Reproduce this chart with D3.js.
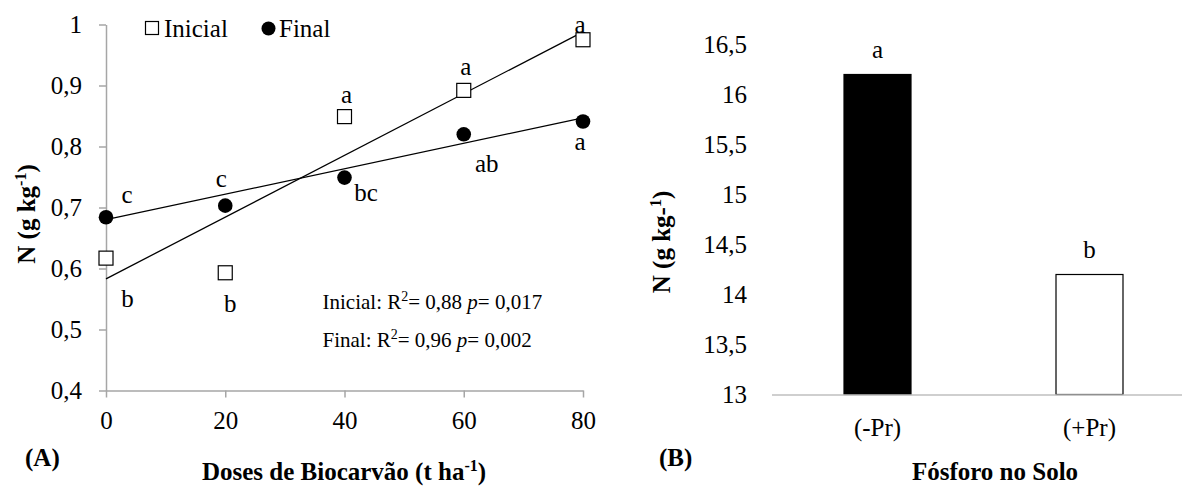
<!DOCTYPE html>
<html>
<head>
<meta charset="utf-8">
<script src="https://cdn.jsdelivr.net/npm/d3@7"></script>
<style>
  body { margin: 0; background: #fff; }
  svg { display: block; }
  text { font-family: "Liberation Serif", "Times New Roman", serif; fill: #000; }
</style>
</head>
<body>
<svg id="chart" width="1182" height="486"></svg>
<script>
// Panel A: N content vs biochar dose
const doses = [0, 20, 40, 60, 80];
const nInicial = [0.617, 0.593, 0.849, 0.892, 0.975];
const nFinal = [0.684, 0.703, 0.749, 0.820, 0.841];
const lettersInicial = ["b", "b", "a", "a", "a"];
const lettersFinal = ["c", "c", "bc", "ab", "a"];
// fitted linear trends: N at dose 0 and at dose 80
const fitDoses = [0, 80];
const fitInicial = [0.583, 0.988];
const fitFinal = [0.680, 0.847];
const yTicksA = [0.4, 0.5, 0.6, 0.7, 0.8, 0.9, 1];
const xTicksA = [0, 20, 40, 60, 80];

// Panel B: N content vs soil phosphorus
const fosforo = ["(-Pr)", "(+Pr)"];
const nFosforo = [16.2, 14.2];
const lettersFosforo = ["a", "b"];
const yTicksB = [13, 13.5, 14, 14.5, 15, 15.5, 16, 16.5];

const locale = d3.formatLocale({ decimal: ",", thousands: ".", grouping: [3], currency: ["", ""] });
const fmt = locale.format("~g");

const svg = d3.select("#chart");
const FS = 25;
const axisGray = "#a6a6a6";

// ---------- Panel A ----------
const xA = d3.scaleLinear().domain([0, 80]).range([106, 583]);
const yA = d3.scaleLinear().domain([0.4, 1]).range([390.5, 24.5]);

const gA = svg.append("g");

const yAxisA = gA.append("g")
  .attr("transform", `translate(${xA(0)},0)`)
  .call(d3.axisLeft(yA).tickValues(yTicksA).tickFormat(fmt).tickSize(7).tickSizeOuter(0).tickPadding(17));
const xAxisA = gA.append("g")
  .attr("transform", `translate(0,${yA(0.4)})`)
  .call(d3.axisBottom(xA).tickValues(xTicksA).tickFormat(fmt).tickSize(7).tickSizeOuter(0).tickPadding(14));

[yAxisA, xAxisA].forEach(ax => {
  ax.select(".domain").attr("stroke", axisGray).attr("stroke-width", 1.5);
  ax.selectAll(".tick line").attr("stroke", axisGray).attr("stroke-width", 1.5);
  ax.selectAll(".tick text")
    .attr("fill", "#000")
    .style("font-family", '"Liberation Serif", "Times New Roman", serif')
    .style("font-size", FS + "px");
});

// trend lines
const line = d3.line().x(d => xA(d[0])).y(d => yA(d[1]));
[fitInicial, fitFinal].forEach(fit => {
  gA.append("path")
    .attr("d", line(fitDoses.map((d, i) => [d, fit[i]])))
    .attr("fill", "none")
    .attr("stroke", "#000")
    .attr("stroke-width", 1.3);
});

// Final series: filled circles
gA.selectAll("circle.final")
  .data(doses.map((d, i) => [d, nFinal[i]]))
  .join("circle")
  .attr("class", "final")
  .attr("cx", d => xA(d[0]))
  .attr("cy", d => yA(d[1]))
  .attr("r", 7.3)
  .attr("fill", "#000");

// Inicial series: open squares
const sq = 14;
gA.selectAll("rect.inicial")
  .data(doses.map((d, i) => [d, nInicial[i]]))
  .join("rect")
  .attr("class", "inicial")
  .attr("x", d => xA(d[0]) - sq / 2)
  .attr("y", d => yA(d[1]) - sq / 2)
  .attr("width", sq)
  .attr("height", sq)
  .attr("fill", "#fff")
  .attr("stroke", "#000")
  .attr("stroke-width", 1.2);

// significance letters (offsets from each marker)
const offInicial = [[21.5, 49], [5, 39], [2, -14], [2, -15], [-3, -7]];
const offFinal = [[21, -14], [-4, -19], [21.5, 23], [23, 38], [-3, 29]];
function letters(values, labels, offs) {
  gA.append("g").selectAll("text")
    .data(doses.map((d, i) => ({ d, v: values[i], t: labels[i], o: offs[i] })))
    .join("text")
    .attr("x", p => xA(p.d) + p.o[0])
    .attr("y", p => yA(p.v) + p.o[1])
    .attr("text-anchor", "middle")
    .style("font-size", FS + "px")
    .text(p => p.t);
}
letters(nInicial, lettersInicial, offInicial);
letters(nFinal, lettersFinal, offFinal);

// legend
const lg = gA.append("g");
lg.append("rect").attr("x", 145.5).attr("y", 21.5).attr("width", 13).attr("height", 13)
  .attr("fill", "#fff").attr("stroke", "#000").attr("stroke-width", 1.2);
lg.append("text").attr("x", 164).attr("y", 36.5).style("font-size", FS + "px").text("Inicial");
lg.append("circle").attr("cx", 268.5).attr("cy", 28.5).attr("r", 7).attr("fill", "#000");
lg.append("text").attr("x", 279).attr("y", 36.5).style("font-size", FS + "px").text("Final");

// regression annotations
function stat(y, name, r2, p) {
  const t = gA.append("text").attr("x", 322.5).attr("y", y).style("font-size", "21px");
  t.append("tspan").text(name + ": R");
  t.append("tspan").attr("dy", -8).style("font-size", "14px").text("2");
  t.append("tspan").attr("dy", 8).text("= " + r2 + " ");
  t.append("tspan").style("font-style", "italic").text("p");
  t.append("tspan").text("= " + p);
}
stat(309, "Inicial", "0,88", "0,017");
stat(347, "Final", "0,96", "0,002");

// axis titles
const yTitleA = gA.append("text")
  .attr("transform", "translate(35,214) rotate(-90)")
  .attr("text-anchor", "middle")
  .style("font-size", FS + "px").style("font-weight", "bold");
yTitleA.append("tspan").text("N (g kg");
yTitleA.append("tspan").attr("dy", -9).style("font-size", "16px").text("-1");
yTitleA.append("tspan").attr("dy", 9).text(")");

const xTitleA = gA.append("text")
  .attr("x", 344).attr("y", 480)
  .attr("text-anchor", "middle")
  .style("font-size", FS + "px").style("font-weight", "bold");
xTitleA.append("tspan").text("Doses de Biocarvão (t ha");
xTitleA.append("tspan").attr("dy", -9).style("font-size", "16px").text("-1");
xTitleA.append("tspan").attr("dy", 9).text(")");

gA.append("text").attr("x", 25).attr("y", 466)
  .style("font-size", FS + "px").style("font-weight", "bold").text("(A)");

// ---------- Panel B ----------
const xB = d3.scaleBand().domain(fosforo).range([771.5, 1195.5]).paddingInner(0.684).paddingOuter(0.342);
const yB = d3.scaleLinear().domain([13, 16.5]).range([394.5, 44.5]);

const gB = svg.append("g");

const yAxisB = gB.append("g")
  .attr("transform", "translate(771,0)")
  .call(d3.axisLeft(yB).tickValues(yTicksB).tickFormat(fmt).tickSize(0).tickPadding(24));
yAxisB.select(".domain").remove();

gB.selectAll("rect.bar")
  .data(fosforo.map((c, i) => ({ c, v: nFosforo[i] })))
  .join("rect")
  .attr("class", "bar")
  .attr("x", d => xB(d.c))
  .attr("y", d => yB(d.v))
  .attr("width", xB.bandwidth())
  .attr("height", d => yB(13) - yB(d.v))
  .attr("fill", (d, i) => i === 0 ? "#000" : "#fff")
  .attr("stroke", "#000")
  .attr("stroke-width", 1.2);

const xAxisB = gB.append("g")
  .attr("transform", `translate(0,${yB(13)})`)
  .call(d3.axisBottom(xB).tickSize(0).tickSizeOuter(0).tickPadding(23.5));
xAxisB.select(".domain").attr("stroke", "#bfbfbf").attr("stroke-width", 1.5);

[yAxisB, xAxisB].forEach(ax => {
  ax.selectAll(".tick text")
    .attr("fill", "#000")
    .style("font-family", '"Liberation Serif", "Times New Roman", serif')
    .style("font-size", FS + "px");
});

gB.append("g").selectAll("text")
  .data(fosforo.map((c, i) => ({ c, v: nFosforo[i], t: lettersFosforo[i] })))
  .join("text")
  .attr("x", d => xB(d.c) + xB.bandwidth() / 2)
  .attr("y", d => yB(d.v) - 17)
  .attr("text-anchor", "middle")
  .style("font-size", FS + "px")
  .text(d => d.t);

const yTitleB = gB.append("text")
  .attr("transform", "translate(670,242) rotate(-90)")
  .attr("text-anchor", "middle")
  .style("font-size", FS + "px").style("font-weight", "bold");
yTitleB.append("tspan").text("N (g kg-");
yTitleB.append("tspan").attr("dy", -9).style("font-size", "16px").text("1");
yTitleB.append("tspan").attr("dy", 9).text(")");

gB.append("text").attr("x", 995).attr("y", 480)
  .attr("text-anchor", "middle")
  .style("font-size", FS + "px").style("font-weight", "bold")
  .text("Fósforo no Solo");

gB.append("text").attr("x", 659).attr("y", 466)
  .style("font-size", FS + "px").style("font-weight", "bold").text("(B)");
</script>
</body>
</html>
